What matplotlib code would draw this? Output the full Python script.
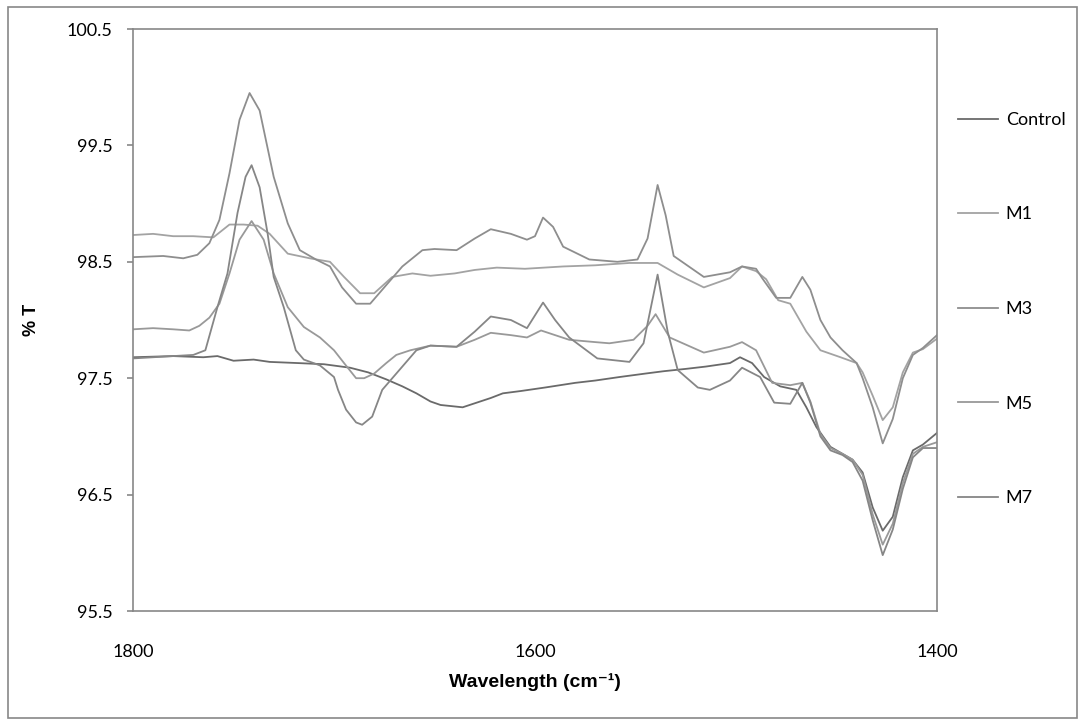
import matplotlib
matplotlib.use("Agg")
import matplotlib.pyplot as plt
from matplotlib.patches import Rectangle

# ---------------- data ----------------
control_x = [1800, 1780, 1765, 1758, 1750, 1740, 1732, 1718, 1705, 1692, 1683, 1674, 1666, 1659,
             1652, 1647, 1636, 1629, 1622, 1616, 1607, 1595, 1580, 1570, 1558, 1545, 1536, 1525,
             1515, 1503, 1498, 1492, 1486, 1478, 1470, 1465, 1460, 1453, 1447, 1442, 1437, 1432,
             1427, 1422, 1417, 1412, 1407, 1400]
control_y = [97.68, 97.69, 97.68, 97.69, 97.65, 97.66, 97.64, 97.63, 97.62, 97.59, 97.55, 97.49,
             97.43, 97.37, 97.30, 97.27, 97.25, 97.29, 97.33, 97.37, 97.39, 97.42, 97.46, 97.48,
             97.51, 97.54, 97.56, 97.58, 97.60, 97.63, 97.68, 97.63, 97.51, 97.43, 97.40, 97.25,
             97.08, 96.91, 96.85, 96.80, 96.69, 96.39, 96.19, 96.31, 96.65, 96.88, 96.93, 97.03]

m1_x = [1800, 1790, 1780, 1770, 1760, 1752, 1745, 1738, 1732, 1723, 1712, 1702, 1695, 1687,
        1680, 1671, 1661, 1652, 1640, 1630, 1619, 1605, 1586, 1570, 1553, 1539, 1529, 1516,
        1503, 1497, 1490, 1485, 1479, 1473, 1465, 1458, 1448, 1440, 1437, 1432, 1427, 1422,
        1417, 1412, 1407, 1400]
m1_y = [98.73, 98.74, 98.72, 98.72, 98.71, 98.82, 98.82, 98.81, 98.74, 98.57, 98.53, 98.50,
        98.37, 98.23, 98.23, 98.37, 98.40, 98.38, 98.40, 98.43, 98.45, 98.44, 98.46, 98.47,
        98.49, 98.49, 98.39, 98.28, 98.36, 98.46, 98.42, 98.35, 98.17, 98.14, 97.90, 97.74,
        97.68, 97.63, 97.55, 97.35, 97.14, 97.25, 97.55, 97.72, 97.75, 97.84]

m3_x = [1800, 1785, 1775, 1768, 1762, 1757, 1752, 1747, 1742, 1737, 1730, 1723, 1717, 1709,
        1702, 1696, 1689, 1682, 1676, 1666, 1656, 1650, 1639, 1630, 1622, 1612, 1604, 1600,
        1596, 1591, 1586, 1573, 1559, 1549, 1544, 1539, 1535, 1531, 1516, 1503, 1497, 1490,
        1487, 1480, 1473, 1467, 1463, 1458, 1453, 1447, 1440, 1437, 1432, 1427, 1422, 1417,
        1412, 1407, 1400]
m3_y = [98.54, 98.55, 98.53, 98.56, 98.66, 98.86, 99.26, 99.72, 99.95, 99.80, 99.23, 98.83,
        98.60, 98.52, 98.46, 98.28, 98.14, 98.14, 98.26, 98.46, 98.60, 98.61, 98.60, 98.70,
        98.78, 98.74, 98.69, 98.72, 98.88, 98.80, 98.63, 98.52, 98.50, 98.52, 98.70, 99.16,
        98.90, 98.55, 98.37, 98.41, 98.46, 98.44, 98.36, 98.19, 98.19, 98.37, 98.26, 98.00,
        97.85, 97.74, 97.63, 97.50, 97.25, 96.94, 97.15, 97.50, 97.70, 97.76, 97.87]

m5_x = [1800, 1790, 1780, 1772, 1767, 1762, 1757, 1752, 1747, 1741, 1735, 1730, 1723, 1715,
        1707, 1700, 1695, 1689, 1685, 1680, 1674, 1669, 1662, 1652, 1639, 1630, 1622, 1612,
        1604, 1597, 1583, 1570, 1563, 1551, 1544, 1540, 1533, 1516, 1503, 1497, 1490, 1482,
        1473, 1467, 1463, 1458, 1453, 1447, 1442, 1437, 1432, 1427, 1422, 1417, 1412, 1407,
        1400]
m5_y = [97.92, 97.93, 97.92, 97.91, 97.95, 98.02, 98.14, 98.40, 98.69, 98.85, 98.69, 98.40,
        98.11, 97.94, 97.85, 97.74, 97.63, 97.50, 97.50, 97.54, 97.63, 97.70, 97.74, 97.78,
        97.77, 97.83, 97.89, 97.87, 97.85, 97.91, 97.83, 97.81, 97.80, 97.83, 97.95, 98.05,
        97.85, 97.72, 97.77, 97.81, 97.74, 97.46, 97.44, 97.46, 97.30, 97.02, 96.90, 96.85,
        96.80, 96.67, 96.33, 96.07, 96.25, 96.60, 96.85, 96.91, 96.95]

m7_x = [1800, 1790, 1780, 1770, 1764, 1758, 1753, 1748, 1744, 1741, 1737, 1733, 1730, 1725,
        1719, 1715, 1707, 1700, 1698, 1694, 1689, 1686, 1681, 1676, 1669, 1659, 1652, 1639,
        1630, 1622, 1612, 1604, 1596, 1590, 1583, 1569, 1553, 1546, 1539, 1534, 1529, 1519,
        1513, 1503, 1497, 1488, 1481, 1473, 1467, 1463, 1458, 1453, 1447, 1442, 1437, 1432,
        1427, 1422, 1417, 1412, 1407, 1400]
m7_y = [97.67, 97.68, 97.69, 97.70, 97.74, 98.11, 98.40, 98.92, 99.23, 99.33, 99.14, 98.74,
        98.37, 98.11, 97.74, 97.66, 97.61, 97.51, 97.40, 97.23, 97.12, 97.10, 97.17, 97.40,
        97.54, 97.74, 97.78, 97.77, 97.90, 98.03, 98.00, 97.93, 98.15, 98.00, 97.85, 97.67,
        97.64, 97.80, 98.39, 97.90, 97.57, 97.42, 97.40, 97.48, 97.59, 97.51, 97.29, 97.28,
        97.46, 97.29, 97.00, 96.88, 96.84, 96.78, 96.62, 96.28, 95.98, 96.20, 96.55, 96.82,
        96.90, 96.90]

series_labels = ["Control", "M1", "M3", "M5", "M7"]
series_colors = ["#6a6a6a", "#a3a3a3", "#8e8e8e", "#999999", "#868686"]

x_ticks = [1800, 1600, 1400]
y_ticks = [95.5, 96.5, 97.5, 98.5, 99.5, 100.5]

# ---------------- figure ----------------
W, H = 1085, 727
fig = plt.figure(figsize=(W / 100, H / 100), dpi=100)
fig.patch.set_facecolor("white")

left, right, top, bottom = 133, 937, 29, 611
ax = fig.add_axes([left / W, 1 - bottom / H, (right - left) / W, (bottom - top) / H])

tick_font = "Lato"
data = [(control_x, control_y), (m1_x, m1_y), (m3_x, m3_y), (m5_x, m5_y), (m7_x, m7_y)]
for (xs, ys), lab, col in zip(data, series_labels, series_colors):
    ax.plot(xs, ys, color=col, lw=1.3, label=lab, solid_joinstyle="round")

ax.set_xlim(1800, 1400)
ax.set_ylim(95.5, 100.5)
ax.set_xticks(x_ticks)
ax.set_xticklabels([str(v) for v in x_ticks])
ax.set_yticks(y_ticks)
ax.set_yticklabels([f"{v:.1f}" for v in y_ticks])

spine_col = "#878787"
for s in ax.spines.values():
    s.set_color(spine_col)
    s.set_linewidth(1.2)
ax.tick_params(axis="y", direction="out", length=4.5, width=1.2, color=spine_col,
               pad=10, labelsize=13, labelcolor="black")
ax.tick_params(axis="x", length=0, pad=24, labelsize=13, labelcolor="black")
for lab in ax.get_xticklabels() + ax.get_yticklabels():
    lab.set_fontfamily(tick_font)

title_fonts = ["Liberation Sans Narrow", "Liberation Sans", "DejaVu Sans"]
ax.set_xlabel("Wavelength (cm\u207b\u00b9)", fontsize=14, fontweight="bold",
              fontfamily=title_fonts)
ax.xaxis.set_label_coords(0.5, (bottom - 682) / (bottom - top))
ax.xaxis.label.set_va("center")
ax.set_ylabel("% T", fontsize=13, fontweight="bold", fontfamily=["Liberation Sans", "DejaVu Sans"])
ax.yaxis.set_label_coords((32 - left) / (right - left), 0.5)
ax.yaxis.label.set_va("center")

leg = fig.legend(loc="center left", bbox_to_anchor=(958 / W, 1 - 309 / H),
                 frameon=False, borderpad=0, borderaxespad=0, handlelength=2.2,
                 handletextpad=0.45, labelspacing=4.35, prop={"family": tick_font, "size": 13})

fig.patches.append(Rectangle((8 / W, 1 - 718 / H), (1077 - 8) / W, (718 - 7) / H,
                             transform=fig.transFigure, fill=False, edgecolor=spine_col,
                             linewidth=1.2, zorder=-1))

fig.savefig("out.png", dpi=100)
